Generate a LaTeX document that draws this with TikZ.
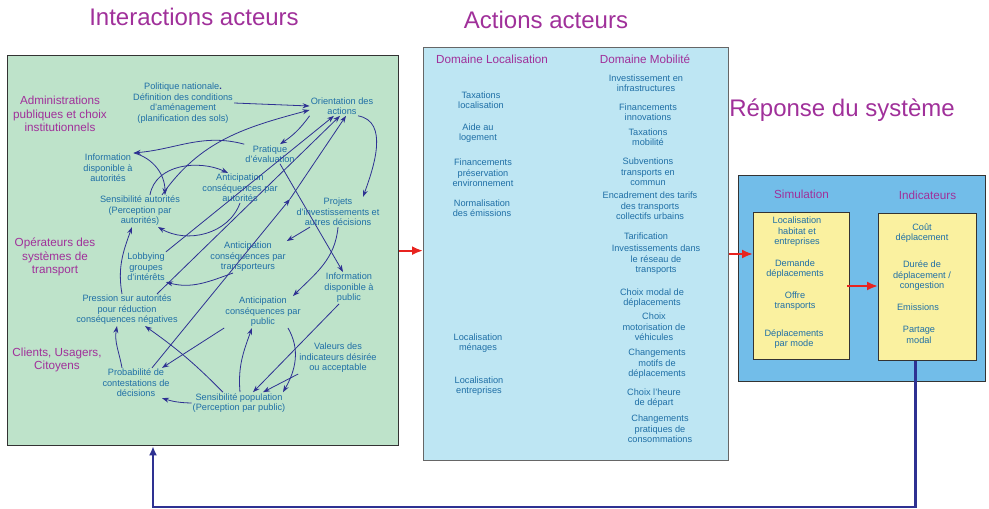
\documentclass[tikz,border=0pt]{standalone}
\usepackage{fontspec}
\setmainfont{Liberation Sans}
\usetikzlibrary{arrows.meta, positioning}

\definecolor{panelgreen}{HTML}{BEE3CA}
\definecolor{panelcyan}{HTML}{BEE6F3}
\definecolor{panelsky}{HTML}{72BDE9}
\definecolor{simyellow}{HTML}{FAF1A0}
\definecolor{labelblue}{HTML}{1F6FA6}
\definecolor{groupviolet}{HTML}{A0309A}
\definecolor{linkblue}{HTML}{2E3192}
\definecolor{flowred}{HTML}{E8231F}

\begin{document}
\begin{tikzpicture}[x=1pt, y=-1pt,
  panel/.style={draw=black!80, line width=1pt, inner sep=0pt, anchor=north west},
  item/.style={text=labelblue, font=\fontsize{9.2}{10.5}\selectfont, align=center, inner sep=1pt},
  group/.style={text=groupviolet, font=\fontsize{11.7}{13.4}\selectfont, align=center, inner sep=1pt},
  heading/.style={text=groupviolet, font=\fontsize{24}{28}\selectfont, inner sep=0pt},
  link/.style={-{Stealth[length=7pt, width=5pt]}, draw=linkblue, line width=0.8pt},
  flow/.style={-{Latex[length=11pt, width=9pt]}, draw=flowred, line width=2pt},
  feedback/.style={-{Latex[length=9pt, width=8pt]}, draw=linkblue, line width=2.6pt}]

\useasboundingbox (0,0) rectangle (989,509);

% the three blocks
\node[panel, fill=panelgreen, line width=1.3pt, minimum width=391, minimum height=390] (interact) at (7,55) {};
\node[panel, fill=panelcyan, draw=black!60, minimum width=305, minimum height=413] (actions) at (423,47) {};
\node[panel, fill=panelsky, minimum width=247, minimum height=206] (response) at (738,175) {};
\node[panel, fill=simyellow, minimum width=96, minimum height=147] (simbox) at (753,212) {};
\node[panel, fill=simyellow, minimum width=98, minimum height=147] (indicbox) at (878,213) {};

\node[heading] (headinter) at (194,17) {Interactions acteurs};
\node[heading] (headact) at (546,20) {Actions acteurs};
\node[heading] (headresp) at (842,110) {Réponse du système};

% actors
\node[group] (admin) at (60,114) {Administrations\\publiques et choix\\institutionnels};
\node[group] (oper) at (55,257) {Opérateurs des\\systèmes de\\transport};
\node[group] (clients) at (57,360) {Clients, Usagers,\\Citoyens};

\node[item] (polit) at (183,103) {Politique nationale{\color{linkblue}\textbf{.}}\\Définition des conditions\\d'aménagement\\(planification des sols)};
\node[item] (orient) at (342,106) {Orientation des\\actions};
\node[item] (prat) at (270,154) {Pratique\\d'évaluation};
\node[item] (infoaut) at (108,168) {Information\\disponible à\\autorités};
\node[item] (anticaut) at (240,188) {Anticipation\\conséquences par\\autorités};
\node[item] (sensaut) at (140,211) {Sensibilité autorités\\(Perception par\\autorités)};
\node[item] (projets) at (338,212) {Projets\\d'investissements et\\autres décisions};
\node[item] (lobby) at (146,267) {Lobbying\\groupes\\d'intérêts};
\node[item] (antictr) at (248,257) {Anticipation\\conséquences par\\transporteurs};
\node[item] (infopub) at (349,288) {Information\\disponible à\\public};
\node[item] (pression) at (127,310) {Pression sur autorités\\pour réduction\\conséquences négatives};
\node[item] (anticpub) at (263,312) {Anticipation\\conséquences par\\public};
\node[item] (valeurs) at (338,358) {Valeurs des\\indicateurs désirée\\ou acceptable};
\node[item] (proba) at (136,383) {Probabilité de\\contestations de\\décisions};
\node[item] (senspop) at (239,403) {Sensibilité population\\(Perception par public)};

% authorities loop
\draw[link] (polit.east) -- (orient.west);
\draw[link] (orient.south west) to[bend left=10] ([xshift=10]prat.north);
\draw[link] ([xshift=16]orient.south) to[out=-10, in=70] ([xshift=25]projets.north);
\draw[link] (prat.north west) to[out=165, in=5] (infoaut.north east);
\draw[link] (infoaut.north east) to[out=-15, in=90] ([xshift=25]sensaut.north);
\draw[link] ([xshift=10]sensaut.north) to[out=80, in=155] ([xshift=-12]anticaut.north);
\draw[link] ([xshift=22]sensaut.north) to[out=55, in=195] ([yshift=-4]orient.west);
\draw[link] (anticaut.south) to[out=250, in=-30] ([xshift=18]sensaut.south);

% operators
\draw[link] (lobby.north east) -- ([xshift=-8]orient.south);
\draw[link] ([xshift=30]pression.north) -- ([xshift=-2]orient.south);
\coordinate (relay) at (290,199);
\draw[link] ([xshift=16]proba.north) -- (relay);
\draw[link] (relay) -- ([xshift=4]orient.south);
\draw[link] ([xshift=10]prat.south) -- ([xshift=-6]infopub.north);
\draw[link] ([xshift=-28]projets.south) -- (antictr.north east);
\draw[link] (projets.south) to[out=-95, in=45] ([xshift=30]anticpub.north);
\draw[link] ([xshift=-15]antictr.south) to[out=200, in=-15] (lobby.south east);
\draw[link] ([xshift=-5]pression.north) to[out=100, in=250] ([xshift=-8]sensaut.south);

% users
\draw[link] ([xshift=-14]proba.north) to[out=100, in=260] ([xshift=-10]pression.south);
\draw[link] (anticpub.south west) -- ([xshift=26]proba.north);
\draw[link] ([xshift=-16]senspop.north) to[bend right=5] ([xshift=18]pression.south);
\draw[link] ([xshift=1]senspop.north) to[out=95, in=250] ([xshift=-11]anticpub.south);
\draw[link] ([xshift=25]anticpub.south) to[out=-60, in=60] ([xshift=44]senspop.north);
\draw[link] ([xshift=-10]infopub.south) -- ([xshift=14]senspop.north);
\draw[link] (valeurs.south west) -- ([xshift=24]senspop.north);
\draw[link] (senspop.west) to[bend left=8] ([xshift=26]proba.south);

% levers
\node[group] (domloc) at (492,59) {Domaine Localisation};
\node[group] (dommob) at (645,59) {Domaine Mobilité};

\node[item] (taxloc) at (481,100) {Taxations\\localisation};
\node[item] (aide) at (478,133) {Aide au\\logement};
\node[item] (finenv) at (483,173) {Financements\\préservation\\environnement};
\node[item] (norm) at (482,208) {Normalisation\\des émissions};
\node[item] (locmen) at (478,343) {Localisation\\ménages};
\node[item] (locent) at (479,386) {Localisation\\entreprises};

\node[item] (invinfra) at (646,83) {Investissement en\\infrastructures};
\node[item] (fininno) at (648,112) {Financements\\innovations};
\node[item] (taxmob) at (648,137) {Taxations\\mobilité};
\node[item] (subv) at (648,172) {Subventions\\transports en\\commun};
\node[item] (tarifs) at (650,206) {Encadrement des tarifs\\des transports\\collectifs urbains};
\node[item] (tarif) at (646,236) {Tarification};
\node[item] (invres) at (656,260) {Investissements dans\\le réseau de\\transports};
\node[item] (modal) at (652,298) {Choix modal de\\déplacements};
\node[item] (motor) at (654,327) {Choix\\motorisation de\\véhicules};
\node[item] (motifs) at (657,364) {Changements\\motifs de\\déplacements};
\node[item] (heure) at (654,398) {Choix l'heure\\de départ};
\node[item] (conso) at (660,429) {Changements\\pratiques de\\consommations};

% model and indicators
\node[group, above=12pt of simbox] (simlabel) {Simulation};
\node[group, above=12pt of indicbox] (indiclabel) {Indicateurs};

\node[item] (habitat) at (797,232) {Localisation\\habitat et\\entreprises};
\node[item] (demande) at (795,269) {Demande\\déplacements};
\node[item] (offre) at (795,301) {Offre\\transports};
\node[item] (parmode) at (794,339) {Déplacements\\par mode};

\node[item] (cout) at (922,233) {Coût\\déplacement};
\node[item] (duree) at (922,276) {Durée de\\déplacement /\\congestion};
\node[item] (emis) at (918,307) {Emissions};
\node[item] (partage) at (919,335) {Partage\\modal};

\draw[flow] (interact.east) -- (interact.east -| actions.west);
\draw[flow] (actions.east) -- (actions.east -| simbox.west);
\draw[flow] ([xshift=-3]simbox.east) -- (simbox.east -| indicbox.west);

\coordinate (loopcorner) at (153,507);
\draw[feedback] ([xshift=-12]indicbox.south) |- (loopcorner) -- (loopcorner |- interact.south);

\end{tikzpicture}
\end{document}
